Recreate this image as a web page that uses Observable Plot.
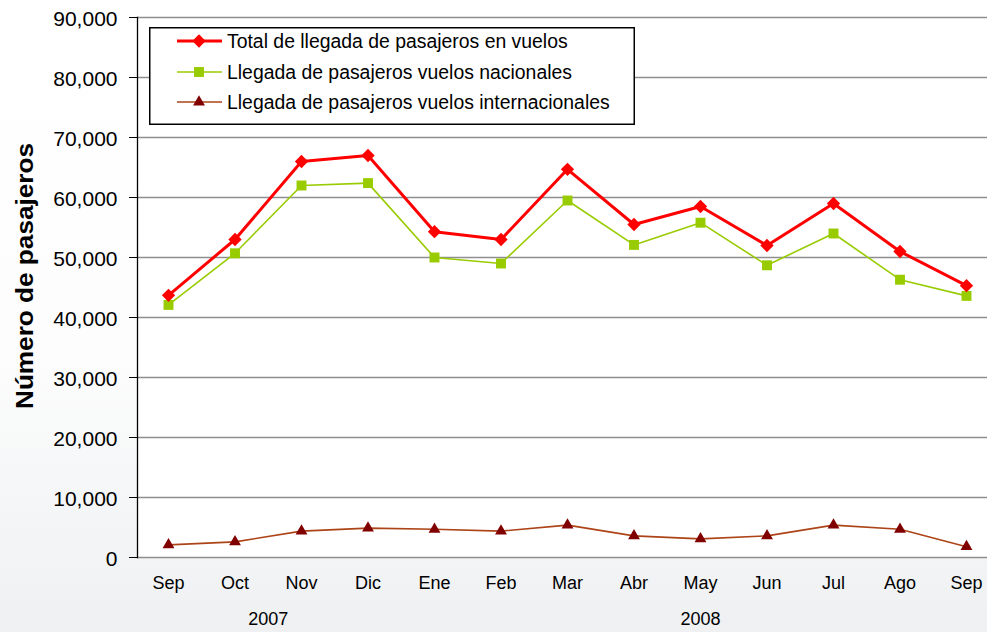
<!DOCTYPE html>
<html><head><meta charset="utf-8">
<script src="https://cdn.jsdelivr.net/npm/d3@7"></script>
<script src="https://cdn.jsdelivr.net/npm/@observablehq/plot@0.6"></script>
<style>
html,body{margin:0;padding:0;}
body{width:987px;height:632px;overflow:hidden;position:relative;
  background:linear-gradient(180deg,#ffffff 0%,#fdfdfd 55%,#eef0f2 100%);
  font-family:"Liberation Sans",Arial,sans-serif;}
#chart{position:absolute;left:0;top:0;}
#legend{position:absolute;left:149px;top:27px;}
</style>
</head><body>
<div id="chart"></div>
<div id="legend"></div>
<script>
const months = ["Sep","Oct","Nov","Dic","Ene","Feb","Mar","Abr","May","Jun","Jul","Ago","Sep"];
const total = [43700, 53000, 66000, 67000, 54300, 53000, 64700, 55500, 58500, 52000, 59000, 51000, 45300];
const nacional = [42100, 50700, 62000, 62400, 50000, 49000, 59500, 52100, 55800, 48700, 54000, 46300, 43600];
const internacional = [2100, 2600, 4400, 4900, 4700, 4400, 5400, 3600, 3100, 3600, 5400, 4700, 1800];
const seriesNames = [
  "Total de llegada de pasajeros en vuelos",
  "Llegada de pasajeros vuelos nacionales",
  "Llegada de pasajeros vuelos internacionales"
];
const yTicks = [0,10000,20000,30000,40000,50000,60000,70000,80000,90000];
const years = ["2007","2008"];
const yearCenter = [1.5, 8];
const yLabel = "Número de pasajeros";

const colors = {
  total: "#ff0000",
  nacLine: "#99cc00", nacMark: "#99cc00",
  intLine: "#ad4417", intMark: "#800000"
};
const FONT = "Liberation Sans, Arial, sans-serif";
const idx = (d, i) => i;
const R_TOTAL = 5.3, R_NAC = 5.6, R_INT = 4.4;

const plot = Plot.plot({
  width: 987,
  height: 632,
  marginLeft: 137,
  marginRight: 0,
  marginTop: 17,
  marginBottom: 75,
  style: {fontFamily: FONT, background: "transparent", color: "#000", overflow: "visible"},
  x: {type: "linear", domain: [0, 12], range: [168, 966]},
  y: {domain: [0, 90000]},
  marks: [
    Plot.frame({fill: "#ffffff", stroke: null}),
    Plot.ruleY(yTicks, {stroke: "#8e8e8e", strokeWidth: 1.6}),
    Plot.frame({anchor: "left", stroke: "#000", strokeWidth: 1.3}),
    Plot.axisY({ticks: yTicks, tickSize: 8, fill: "none", label: null, stroke: "#000"}),
    Plot.axisY({ticks: yTicks, tickFormat: d3.format(","), tickSize: 0, tickPadding: 20, fontSize: 21, dy: 2, label: null}),
    Plot.axisX({ticks: d3.range(13), tickFormat: i => months[i], tickSize: 0, tickPadding: 19, fontSize: 18, label: null}),
    Plot.text(years, {x: (d, i) => yearCenter[i], frameAnchor: "bottom", dy: 67, fontSize: 18, fill: "#000"}),
    Plot.lineY(internacional, {x: idx, y: d => d, stroke: colors.intLine, strokeWidth: 1.6}),
    Plot.dot(internacional, {x: idx, y: d => d, symbol: "triangle", r: R_INT, fill: colors.intMark, stroke: null}),
    Plot.lineY(nacional, {x: idx, y: d => d, stroke: colors.nacLine, strokeWidth: 1.6}),
    Plot.dot(nacional, {x: idx, y: d => d, symbol: "square", r: R_NAC, fill: colors.nacMark, stroke: null}),
    Plot.lineY(total, {x: idx, y: d => d, stroke: colors.total, strokeWidth: 3}),
    Plot.dot(total, {x: idx, y: d => d, symbol: "square", rotate: 45, r: R_TOTAL, fill: colors.total, stroke: null})
  ]
});
// rotated y-axis title
d3.select(plot).append("text")
  .attr("transform", "translate(25,276) rotate(-90)")
  .attr("text-anchor", "middle").attr("dy", "0.35em")
  .attr("font-family", FONT).attr("font-size", 23).attr("font-weight", "bold")
  .attr("textLength", 266).attr("lengthAdjust", "spacingAndGlyphs")
  .attr("fill", "#000").text(yLabel);
document.getElementById("chart").appendChild(plot);

// Legend
const W = 486, H = 98;
const rowY = [14, 45, 75];
const svg = d3.create("svg").attr("width", W).attr("height", H)
  .style("font-family", FONT);
svg.append("rect").attr("x", 0.75).attr("y", 0.75).attr("width", W - 1.5).attr("height", H - 1.5)
  .attr("fill", "#fff").attr("stroke", "#000").attr("stroke-width", 1.5);
const lineStyle = [
  {stroke: colors.total, w: 3},
  {stroke: colors.nacLine, w: 1.6},
  {stroke: colors.intLine, w: 1.6}
];
seriesNames.forEach((name, i) => {
  const y = rowY[i];
  svg.append("line").attr("x1", 28).attr("x2", 73).attr("y1", y).attr("y2", y)
    .attr("stroke", lineStyle[i].stroke).attr("stroke-width", lineStyle[i].w);
  const cx = 50;
  if (i === 0) {
    svg.append("path").attr("d", d3.symbol(d3.symbolSquare, Math.PI * R_TOTAL * R_TOTAL)())
      .attr("transform", `translate(${cx},${y}) rotate(45)`).attr("fill", colors.total);
  } else if (i === 1) {
    svg.append("path").attr("d", d3.symbol(d3.symbolSquare, Math.PI * R_NAC * R_NAC)())
      .attr("transform", `translate(${cx},${y})`).attr("fill", colors.nacMark);
  } else {
    svg.append("path").attr("d", d3.symbol(d3.symbolTriangle, Math.PI * R_INT * R_INT)())
      .attr("transform", `translate(${cx},${y})`).attr("fill", colors.intMark);
  }
  svg.append("text").attr("x", 78).attr("y", y).attr("dy", "0.35em")
    .attr("font-size", 19.4).attr("fill", "#000").text(name);
});
document.getElementById("legend").appendChild(svg.node());
</script>
</body></html>
